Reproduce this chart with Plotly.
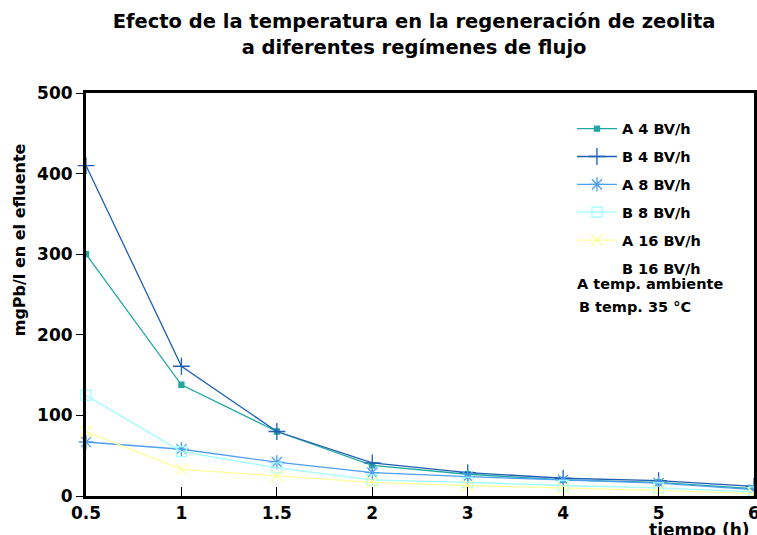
import plotly.graph_objects as go

tiempo = ["0.5", "1", "1.5", "2", "3", "4", "5", "6"]
a_4 = [300, 138, 80, 38, 27, 20, 17, 9]
b_4 = [410, 161, 80, 41, 29, 22, 19, 12]
a_8 = [67, 58, 42, 29, 24, 20, 16, 8]
b_8 = [125, 55, 35, 20, 17, 13, 10, 5]
a_16 = [80, 33, 25, 17, 13, 10, 7, 3]
b_16 = [None] * 8

series = [
    ("A 4 BV/h", a_4, "#1fa89f", "square", 5),
    ("B 4 BV/h", b_4, "#1f5fb4", "cross-thin-open", 12),
    ("A 8 BV/h", a_8, "#4f9ff0", "asterisk-open", 12),
    ("B 8 BV/h", b_8, "#9ffcff", "square-open", 10),
    ("A 16 BV/h", a_16, "#ffff99", "x-thin-open", 12),
    ("B 16 BV/h", b_16, "rgba(0,0,0,0)", "circle", 1),
]

FONT = "DejaVu Sans"
fig = go.Figure()
for i, (name, vals, col, sym, sz) in enumerate(series):
    fig.add_trace(go.Scatter(
        x=tiempo, y=vals, name=name, mode="lines+markers",
        line=dict(color=col, width=1.3),
        marker=dict(symbol=sym, size=sz, color=col, line=dict(color=col, width=1.3)),
        legendgroup=str(i), cliponaxis=False,
    ))

fig.update_layout(
    width=757, height=535,
    margin=dict(l=86, r=3, t=93, b=39),
    paper_bgcolor="white", plot_bgcolor="white",
    font=dict(family=FONT, color="black", weight="bold"),
    title=dict(
        text="Efecto de la temperatura en la regeneración de zeolita<br>a diferentes regímenes de flujo",
        x=0.547, xanchor="center", y=0.947, yanchor="top",
        font=dict(size=19.5, family=FONT, weight="bold"),
    ),
    showlegend=True,
    legend=dict(
        x=0.7275, xanchor="left", y=0.951, yanchor="top",
        font=dict(size=14.5, family=FONT, weight="bold"),
        tracegroupgap=6, bgcolor="rgba(0,0,0,0)",
        itemwidth=40,
    ),
    xaxis=dict(
        type="category", range=[0, 7], showgrid=False, automargin=False,
        showline=True, linecolor="black", linewidth=3, mirror=True,
        ticks="inside", ticklen=9, tickcolor="black", tickwidth=1,
        tickfont=dict(size=17, family=FONT, weight="bold"),
    ),
    yaxis=dict(
        range=[0, 500], dtick=100, showgrid=False, zeroline=False, automargin=False,
        showline=True, linecolor="black", linewidth=3, mirror=True,
        ticks="outside", ticklen=7, tickcolor="black", tickwidth=1,
        tickfont=dict(size=17, family=FONT, weight="bold"),
    ),
    annotations=[
        dict(text="mgPb/l en el efluente", xref="paper", yref="paper",
             x=-0.1, y=0.635, textangle=-90, showarrow=False,
             font=dict(size=16, family=FONT, weight="bold"), xanchor="center", yanchor="middle"),
        dict(text="tiempo (h)", xref="paper", yref="paper",
             x=0.919, y=-0.085, showarrow=False,
             font=dict(size=17, family=FONT, weight="bold"), xanchor="center", yanchor="middle"),
        dict(text="A temp. ambiente", xref="paper", yref="paper",
             x=0.732, y=0.527, showarrow=False,
             font=dict(size=14.5, family=FONT, weight="bold"), xanchor="left", yanchor="middle"),
        dict(text="B temp. 35 °C", xref="paper", yref="paper",
             x=0.735, y=0.47, showarrow=False,
             font=dict(size=14.5, family=FONT, weight="bold"), xanchor="left", yanchor="middle"),
    ],
)

fig.write_html("out.html", config={"displayModeBar": False},
               post_script="document.body.style.margin='0';document.body.style.overflow='hidden';")
